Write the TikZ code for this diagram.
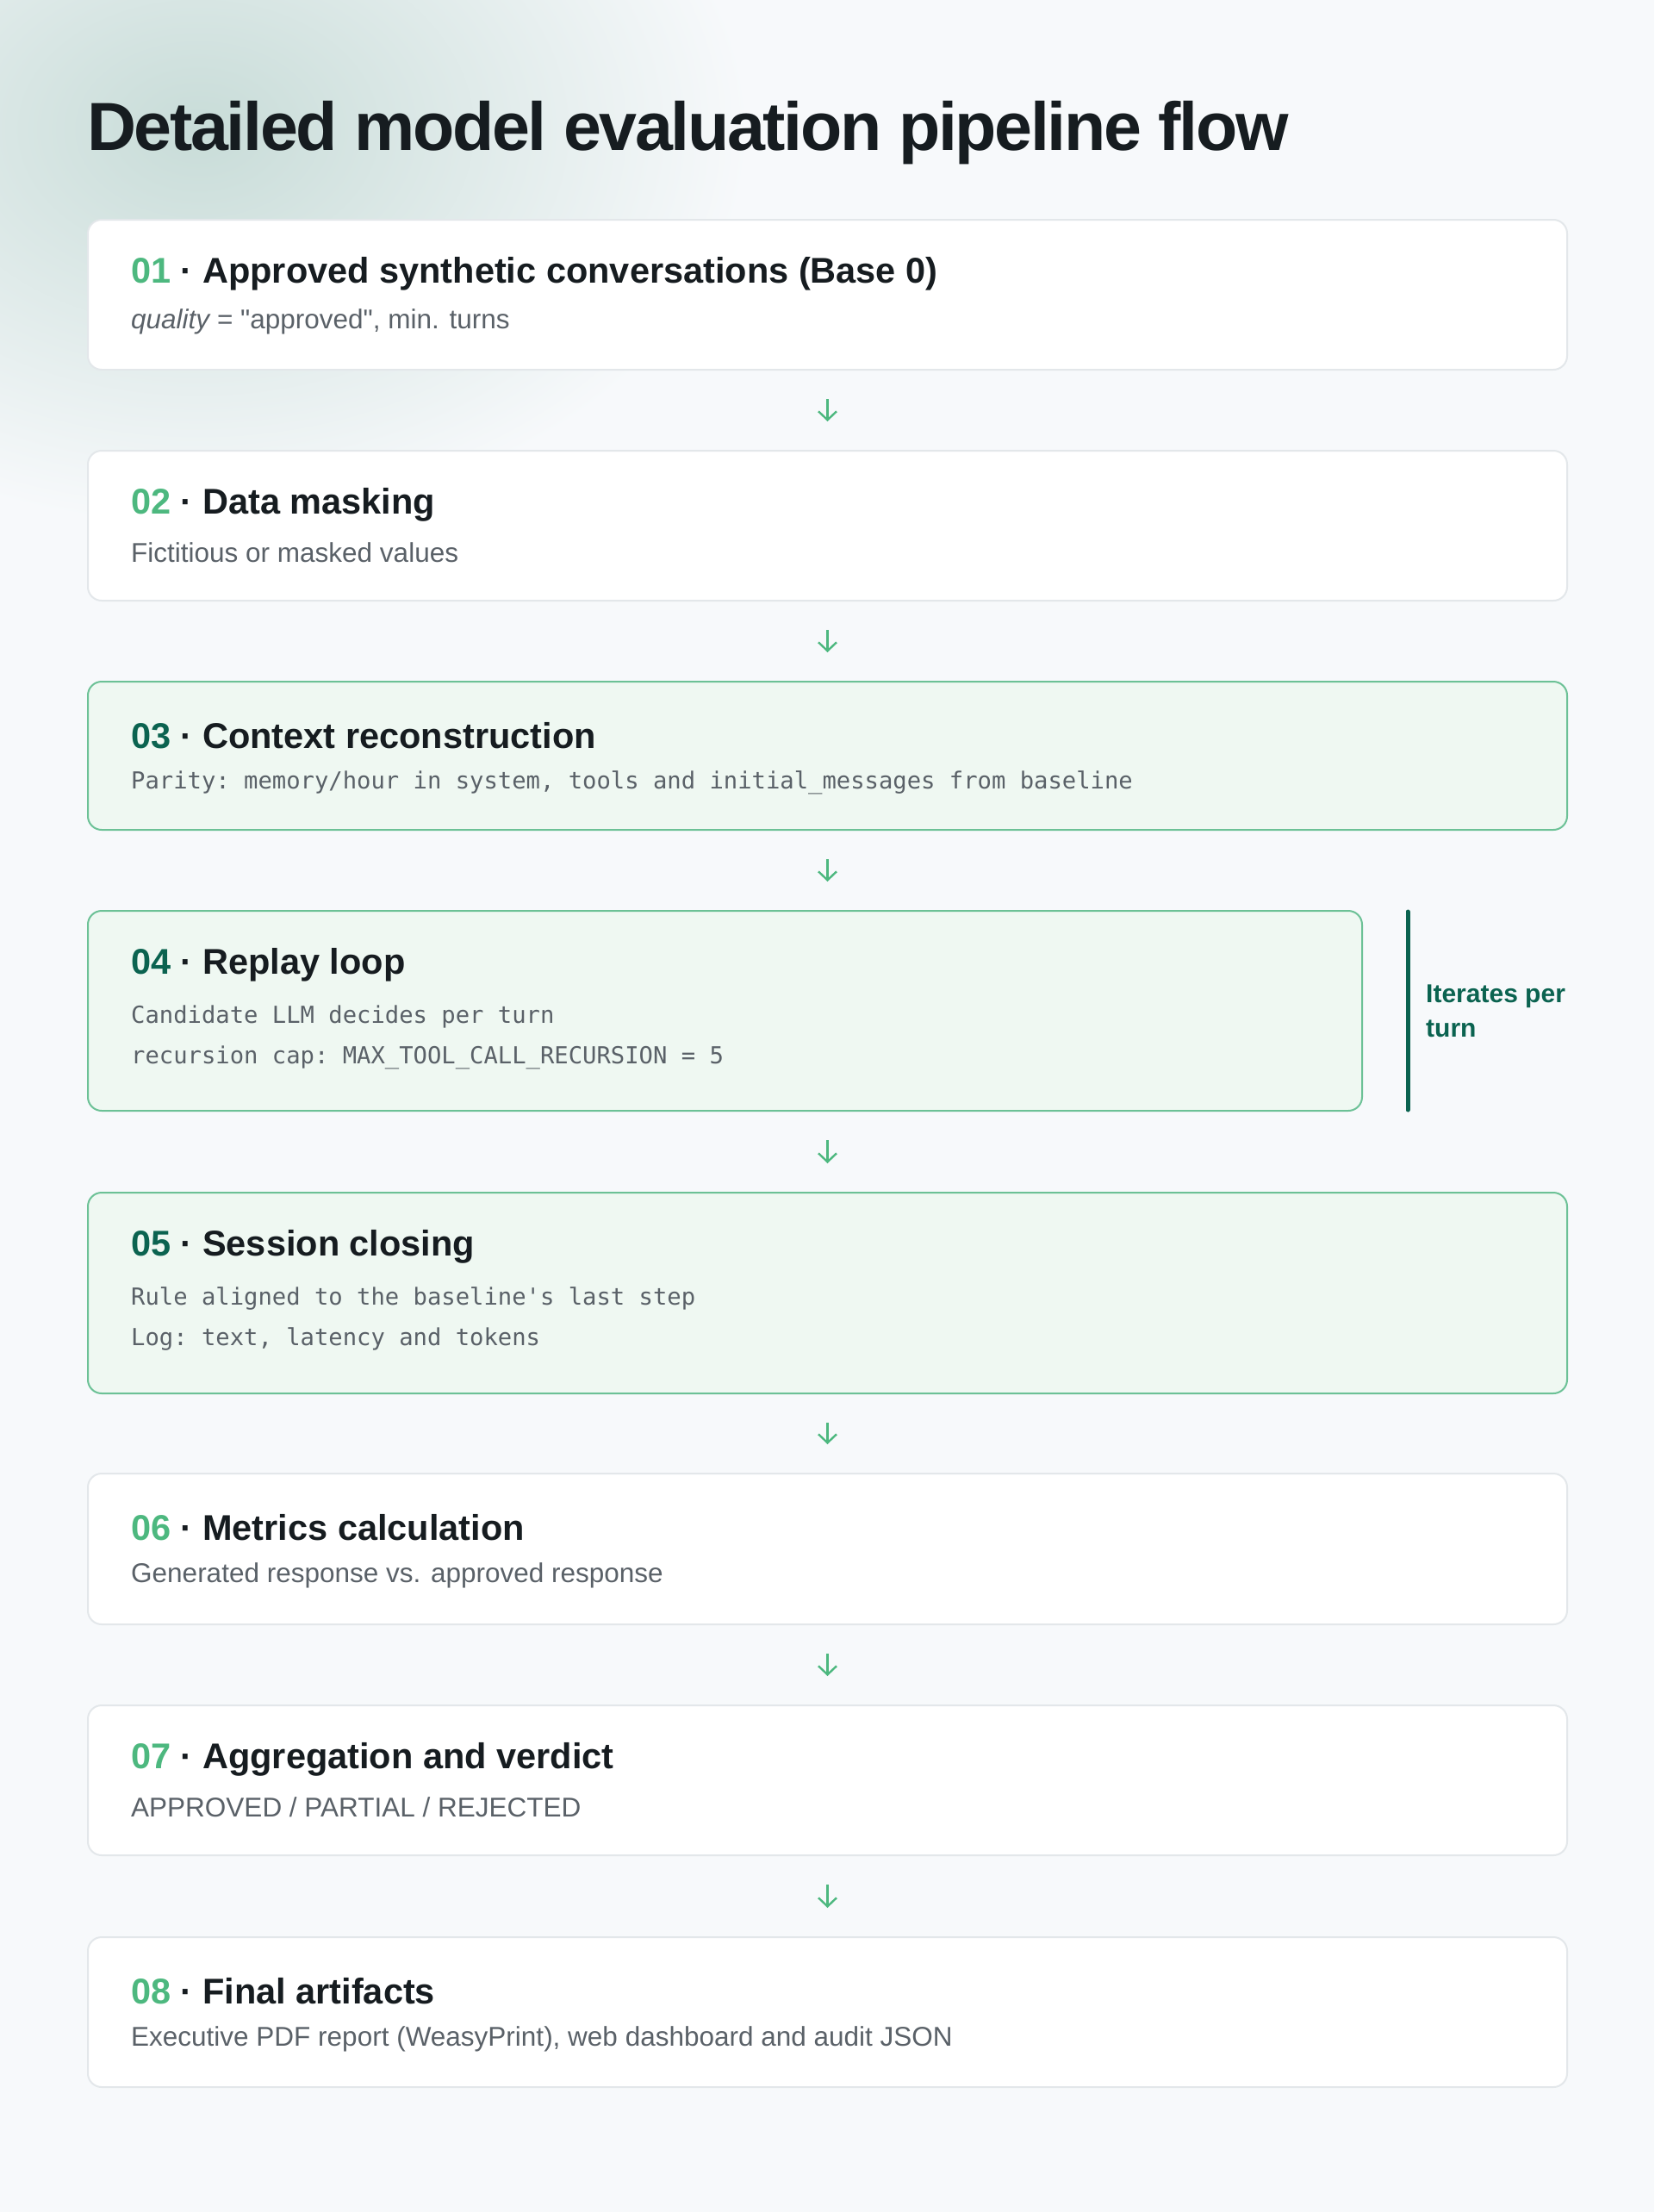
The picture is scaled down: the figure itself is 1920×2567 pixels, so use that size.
\documentclass[tikz,border=0pt]{standalone}
\usepackage{fontspec}
\setmainfont{Liberation Sans}
\setmonofont{DejaVu Sans Mono}
\newfontfamily\headfont{Liberation Sans}[LetterSpace=-3]
\usetikzlibrary{arrows.meta,positioning,calc}

\definecolor{bgpage}{HTML}{F7F9FB}
\definecolor{glow}{HTML}{C8DCD8}
\definecolor{ink}{HTML}{161C20}
\definecolor{muted}{HTML}{5A6168}
\definecolor{cardline}{HTML}{E3E7EA}
\definecolor{greenfill}{HTML}{EFF8F2}
\definecolor{greenline}{HTML}{6CC196}
\definecolor{lightnum}{HTML}{4DB87F}
\definecolor{darknum}{HTML}{0B6350}

\tikzset{
	plaincard/.style={draw=cardline,line width=2pt,fill=white,rounded corners=16pt,inner sep=0pt},
	greencard/.style={draw=greenline,line width=2pt,fill=greenfill,rounded corners=16pt,inner sep=0pt},
	cardtitle/.style={anchor=west,inner sep=0pt,font=\fontsize{41.5}{50}\selectfont\bfseries,text=ink},
	cardnote/.style={anchor=west,inner sep=0pt,font=\fontsize{31.5}{38}\selectfont,text=muted},
	cardcode/.style={anchor=west,inner sep=0pt,font=\fontsize{27.2}{33}\selectfont\ttfamily,text=muted},
	flowarrow/.style={draw=lightnum,line width=2.4pt,-{Straight Barb[length=10pt,width=21pt]},shorten <=33pt,shorten >=33pt}
}

\begin{document}
\begin{tikzpicture}[x=1pt,y=-1pt]

\def\stepcard#1#2#3#4#5#6#7#8{
	\node[#5,anchor=north west,minimum width=#4,minimum height=#3] (#1) at (101,#2) {};
	\node[cardtitle] (#1t) at ([xshift=51pt,yshift=-64pt]#1.north west) {\textcolor{#6}{#7} · #8};
}

% Hintergrund
\useasboundingbox (0,0) rectangle (1920,2567);
\fill[bgpage] (0,0) rectangle (1920,2567);
\begin{scope}
\clip (0,0) rectangle (1920,2567);
\shade[inner color=glow,outer color=bgpage] (230,150) ellipse[x radius=640,y radius=460];
\end{scope}

\node[anchor=base west,inner sep=0pt,font=\fontsize{79}{94}\selectfont\headfont\bfseries,text=ink] (heading) at (101,174) {Detailed model evaluation pipeline flow};

\stepcard{b1}{254}{174pt}{1717pt}{plaincard}{lightnum}{01}{Approved synthetic conversations (Base 0)}
\node[cardnote] at ([xshift=51pt,yshift=-119pt]b1.north west) {{\itshape quality} = \textquotedbl approved\textquotedbl, min. turns};

\stepcard{b2}{522}{174pt}{1717pt}{plaincard}{lightnum}{02}{Data masking}
\node[cardnote] at ([xshift=51pt,yshift=-119pt]b2.north west) {Fictitious or masked values};

\stepcard{b3}{790}{172pt}{1717pt}{greencard}{darknum}{03}{Context reconstruction}
\node[cardcode] at ([xshift=51pt,yshift=-118pt]b3.north west) {Parity: memory/hour in system, tools and initial\_messages from baseline};

\stepcard{b4}{1056}{232pt}{1479pt}{greencard}{darknum}{04}{Replay loop}
\node[cardcode] at ([xshift=51pt,yshift=-124pt]b4.north west) {Candidate LLM decides per turn};
\node[cardcode] at ([xshift=51pt,yshift=-171pt]b4.north west) {recursion cap: MAX\_TOOL\_CALL\_RECURSION = 5};

\stepcard{b5}{1383}{233pt}{1717pt}{greencard}{darknum}{05}{Session closing}
\node[cardcode] at ([xshift=51pt,yshift=-124pt]b5.north west) {Rule aligned to the baseline's last step};
\node[cardcode] at ([xshift=51pt,yshift=-171pt]b5.north west) {Log: text, latency and tokens};

\stepcard{b6}{1709}{175pt}{1717pt}{plaincard}{lightnum}{06}{Metrics calculation}
\node[cardnote] at ([xshift=51pt,yshift=-119pt]b6.north west) {Generated response vs. approved response};

\stepcard{b7}{1978}{174pt}{1717pt}{plaincard}{lightnum}{07}{Aggregation and verdict}
\node[cardnote] at ([xshift=51pt,yshift=-119pt]b7.north west) {APPROVED / PARTIAL / REJECTED};

\stepcard{b8}{2247}{174pt}{1717pt}{plaincard}{lightnum}{08}{Final artifacts}
\node[cardnote] at ([xshift=51pt,yshift=-119pt]b8.north west) {Executive PDF report (WeasyPrint), web dashboard and audit JSON};

% Pfeile zwischen den Stufen
\draw[flowarrow] (b1.south) -- (b2.north);
\draw[flowarrow] (b2.south) -- (b3.north);
\draw[flowarrow] (b3.south) -- (b3.south |- b4.north);
\draw[flowarrow] (b5.north |- b4.south) -- (b5.north);
\draw[flowarrow] (b5.south) -- (b6.north);
\draw[flowarrow] (b6.south) -- (b7.north);
\draw[flowarrow] (b7.south) -- (b8.north);

% Schleife neben Stufe 04
\draw[darknum,line width=5pt,line cap=round,shorten <=2pt,shorten >=2pt]
	([xshift=52pt]b4.north east) coordinate (loopa) -- ([xshift=52pt]b4.south east) coordinate (loopb);
\node[anchor=west,align=left,inner sep=0pt,font=\fontsize{30}{40}\selectfont\bfseries,text=darknum] (looplabel)
	at ([xshift=21pt]$(loopa)!0.5!(loopb)$) {Iterates per\\turn};

\end{tikzpicture}
\end{document}
